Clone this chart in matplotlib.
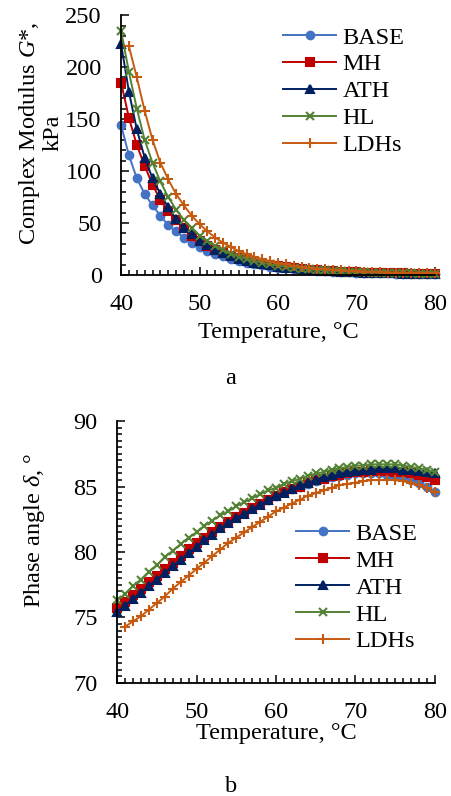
import numpy as np
import matplotlib
matplotlib.use('Agg')
import matplotlib.pyplot as plt
from matplotlib.ticker import MultipleLocator

plt.rcParams['font.family'] = ['Liberation Serif', 'DejaVu Serif']
plt.rcParams['mathtext.fontset'] = 'custom'
plt.rcParams['mathtext.rm'] = 'Liberation Serif'
plt.rcParams['mathtext.it'] = 'Liberation Serif:italic'

# temperature, degC
temp = list(range(40, 81))
temp_ldh = list(range(41, 81))

# complex modulus G*, kPa
g_base = [144, 115, 93, 78, 67, 57, 48, 42, 36, 31, 27, 23.5, 20.5, 18, 15.5, 13.5, 12, 10.5, 9.2, 8.1,
          7.2, 6.4, 5.7, 5.1, 4.5, 4.0, 3.6, 3.2, 2.9, 2.6, 2.3, 2.1, 1.9, 1.7, 1.5, 1.4, 1.3, 1.2, 1.1, 1.0, 0.9]
g_mh = [185, 151, 125, 105, 87, 72, 62, 53, 45, 38, 33, 28, 24.5, 21, 18, 16, 14, 12.2, 10.7, 9.4,
        8.3, 7.3, 6.5, 5.8, 5.1, 4.6, 4.1, 3.7, 3.3, 3.0, 2.7, 2.4, 2.2, 2.0, 1.8, 1.6, 1.5, 1.4, 1.3, 1.2, 1.1]
g_ath = [222, 176, 140, 113, 93, 78, 65, 54, 45, 39, 33, 28.5, 24.5, 21, 18, 15.7, 13.7, 12, 10.5, 9.2,
         8.1, 7.1, 6.3, 5.6, 5.0, 4.4, 3.9, 3.5, 3.1, 2.8, 2.5, 2.3, 2.1, 1.9, 1.7, 1.5, 1.4, 1.3, 1.2, 1.1, 1.0]
g_hl = [235, 195, 160, 130, 108, 90, 75, 63, 53, 45, 38, 32.5, 28, 24, 20.5, 17.8, 15.4, 13.4, 11.7, 10.2,
        9.0, 7.9, 7.0, 6.2, 5.5, 4.9, 4.4, 3.9, 3.5, 3.1, 2.8, 2.5, 2.3, 2.1, 1.9, 1.7, 1.6, 1.5, 1.4, 1.3, 1.2]
g_ldh = [220, 190, 158, 130, 108, 92, 78, 67, 57, 49, 42, 36, 31, 27, 23, 20, 17.5, 15.2, 13.3,
         11.6, 10.2, 9.0, 7.9, 7.0, 6.2, 5.5, 4.9, 4.4, 3.9, 3.5, 3.2, 2.9, 2.6, 2.4, 2.2, 2.0, 1.9, 1.8, 1.7, 1.6]

# phase angle, deg
d_base = [75.6, 76.1, 76.7, 77.2, 77.7, 78.2, 78.7, 79.2, 79.7, 80.2, 80.6, 81.1, 81.5, 81.9, 82.3, 82.7, 83.0, 83.4,
          83.7, 84.0, 84.3, 84.6, 84.8, 85.0, 85.2, 85.4, 85.6, 85.7, 85.8, 85.9, 86.0, 86.0, 86.0, 86.0, 85.9,
          85.8, 85.7, 85.5, 85.3, 85.0, 84.6]
d_mh = [75.7, 76.2, 76.7, 77.2, 77.7, 78.2, 78.7, 79.2, 79.7, 80.2, 80.7, 81.1, 81.5, 81.9, 82.3, 82.7, 83.0, 83.4,
        83.7, 84.0, 84.3, 84.6, 84.8, 85.0, 85.3, 85.5, 85.6, 85.8, 85.9, 86.0, 86.1, 86.1, 86.2, 86.2, 86.2,
        86.1, 86.1, 86.0, 85.9, 85.7, 85.5]
d_ath = [75.4, 75.9, 76.4, 76.9, 77.4, 77.9, 78.4, 78.9, 79.4, 79.9, 80.4, 80.9, 81.3, 81.8, 82.2, 82.6, 82.9, 83.3,
         83.6, 84.0, 84.3, 84.5, 84.8, 85.1, 85.3, 85.5, 85.7, 85.9, 86.0, 86.1, 86.2, 86.3, 86.3, 86.4, 86.4,
         86.4, 86.3, 86.3, 86.2, 86.1, 86.0]
d_hl = [76.3, 76.8, 77.4, 77.9, 78.5, 79.0, 79.6, 80.1, 80.6, 81.1, 81.5, 82.0, 82.4, 82.8, 83.1, 83.5, 83.8, 84.1,
        84.4, 84.7, 84.9, 85.2, 85.4, 85.6, 85.8, 86.0, 86.1, 86.3, 86.4, 86.5, 86.6, 86.6, 86.7, 86.7, 86.7,
        86.7, 86.6, 86.5, 86.4, 86.3, 86.1]
d_ldh = [74.3, 74.7, 75.1, 75.6, 76.1, 76.6, 77.2, 77.7, 78.2, 78.7, 79.2, 79.7, 80.2, 80.7, 81.1, 81.5, 81.9,
         82.3, 82.7, 83.1, 83.4, 83.7, 84.0, 84.3, 84.5, 84.7, 84.9, 85.1, 85.2, 85.3, 85.4, 85.5, 85.5, 85.5,
         85.5, 85.4, 85.3, 85.1, 84.9, 84.6]

names = ['BASE', 'MH', 'ATH', 'HL', 'LDHs']
colors = ['#4472C4', '#C00000', '#002060', '#548235', '#C55A11']
markers = ['o', 's', '^', 'x', '+']
msizes = [5.5, 5.5, 6, 6, 7.5]
fs = 17.5

fig = plt.figure(figsize=(4.52, 7.96), dpi=100)
ax1 = fig.add_axes([0.268, 0.6545, 0.694, 0.3265])
ax2 = fig.add_axes([0.259, 0.142, 0.703, 0.329])

top_series = [(temp, g_base), (temp, g_mh), (temp, g_ath), (temp, g_hl), (temp_ldh, g_ldh)]
bot_series = [(temp, d_base), (temp, d_mh), (temp, d_ath), (temp, d_hl), (temp_ldh, d_ldh)]

for i in range(5):
    ax1.plot(top_series[i][0], top_series[i][1], color=colors[i], marker=markers[i], ms=msizes[i],
             mew=1.5, lw=1.4, label=names[i], clip_on=False)
    ax2.plot(bot_series[i][0], bot_series[i][1], color=colors[i], marker=markers[i], ms=msizes[i],
             mew=1.5, lw=1.4, label=names[i], clip_on=False)

for ax in (ax1, ax2):
    ax.set_xlim(40, 80)
    ax.xaxis.set_major_locator(MultipleLocator(10))
    ax.xaxis.set_minor_locator(MultipleLocator(1))
    ax.spines['top'].set_visible(False)
    ax.spines['right'].set_visible(False)
    ax.spines['left'].set_linewidth(1.3)
    ax.spines['bottom'].set_linewidth(1.3)
    ax.tick_params(which='both', direction='in', width=1.1, labelsize=fs, pad=14)
    ax.tick_params(which='major', length=6)
    ax.tick_params(which='minor', length=3.5)

leg_kw = dict(loc='upper left', frameon=False, fontsize=fs, handlelength=2.2, borderpad=0,
              handletextpad=0.25, labelspacing=0.2, borderaxespad=0)

ax1.set_ylim(0, 250)
ax1.yaxis.set_major_locator(MultipleLocator(50))
ax1.yaxis.set_minor_locator(MultipleLocator(10))
ax1.set_xlabel('Temperature, °C', fontsize=fs, labelpad=5)
ax1.set_ylabel('Complex Modulus $G$*,\nkPa', fontsize=fs, linespacing=1.0)
ax1.yaxis.set_label_coords(-0.185, 0.546)
ax1.legend(bbox_to_anchor=(0.516, 0.956), **leg_kw)

ax2.set_ylim(70, 90)
ax2.yaxis.set_major_locator(MultipleLocator(5))
ax2.yaxis.set_minor_locator(MultipleLocator(0.5))
ax2.set_xlabel('Temperature, °C', fontsize=fs, labelpad=0)
ax2.set_ylabel('Phase angle $\\delta$, °', fontsize=fs)
ax2.yaxis.set_label_coords(-0.22, 0.584)
ax2.legend(bbox_to_anchor=(0.563, 0.611), **leg_kw)

fig.text(0.511, 0.525, 'a', fontsize=fs, ha='center', va='center')
fig.text(0.511, 0.012, 'b', fontsize=fs, ha='center', va='center')

fig.savefig('out.png', dpi=100)
